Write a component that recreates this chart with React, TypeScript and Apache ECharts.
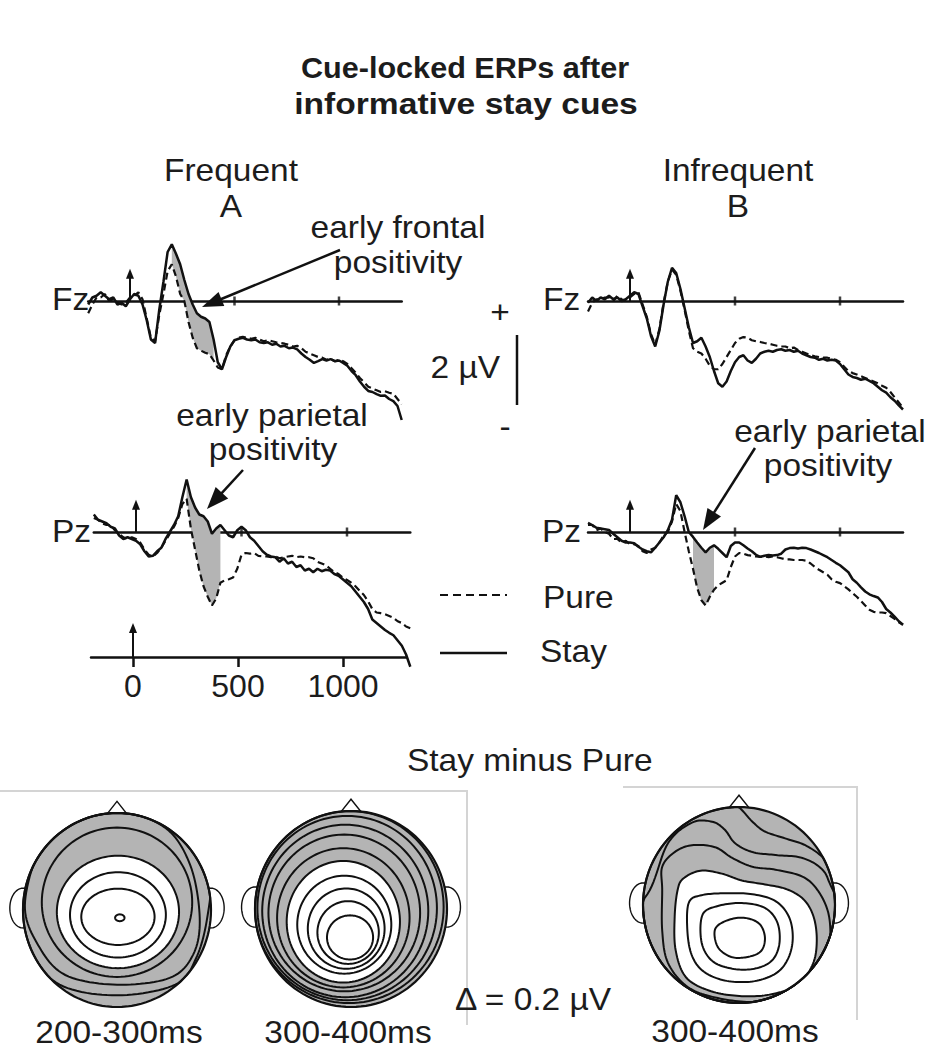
import React, { useEffect, useRef } from "react";
import * as echarts from "echarts";

// ---------------- data ----------------
const times = [-200,-180,-160,-140,-120,-100,-80,-60,-40,-20,0,20,40,60,80,100,120,140,160,180,200,220,240,260,280,300,320,340,360,380,400,420,440,460,480,500,520,540,560,580,600,620,640,660,680,700,720,740,760,780,800,820,840,860,880,900,920,940,960,980,1000,1020,1040,1060,1080,1100,1120,1140,1160,1180,1200,1220,1240,1260,1280,1300];

const fzFrequentStay = [
  -0.1, 0.1, 0.15, 0.25, 0.15, 0.05, 0.1, -0.1, -0.05, -0.15,
  0.05, 0.2, 0.15, -0.1, -0.55, -1.1, -1.2, -0.25, 0.55, 1.4,
  1.62, 1.35, 1.05, 0.6, 0.2, -0.1, -0.35, -0.45, -0.5, -0.6,
  -1.1, -1.75, -1.95, -1.6, -1.3, -1.12, -1.08, -1.05, -1.1, -1.12,
  -1.1, -1.18, -1.2, -1.18, -1.25, -1.22, -1.3, -1.28, -1.35, -1.33,
  -1.38, -1.5, -1.6, -1.68, -1.77, -1.72, -1.66, -1.7, -1.66, -1.72,
  -1.7, -1.77, -1.85, -2.0, -2.12, -2.3, -2.45, -2.57, -2.6, -2.66,
  -2.71, -2.7, -2.8, -2.86, -3.0, -3.4];
const fzFrequentPure = [
  -0.35, -0.1, 0.1, 0.1, 0.2, 0.0, 0.05, -0.05, -0.1, -0.05,
  0.1, 0.15, 0.25, 0.05, -0.5, -1.05, -1.15, -0.4, 0.2, 0.85,
  1.05, 0.7, 0.2, 0.0, -0.6, -1.05, -1.35, -1.42, -1.48, -1.52,
  -1.7, -1.9, -1.95, -1.55, -1.3, -1.12, -1.05, -1.02, -1.05, -1.08,
  -1.05, -1.1, -1.15, -1.12, -1.15, -1.18, -1.2, -1.22, -1.25, -1.3,
  -1.28, -1.35, -1.45, -1.5, -1.55, -1.6, -1.62, -1.68, -1.65, -1.72,
  -1.68, -1.72, -1.8, -1.92, -2.05, -2.2, -2.32, -2.45, -2.5, -2.55,
  -2.6, -2.58, -2.62, -2.65, -2.8, -2.95];
const fzInfrequentStay = [
  -0.05, 0.1, 0.0, 0.1, 0.05, 0.15, 0.05, 0.1, 0.0, 0.05,
  0.15, 0.25, 0.2, -0.15, -0.5, -1.0, -1.3, -0.85, -0.1, 0.55,
  0.95, 0.8, 0.35, -0.2, -0.75, -1.2, -1.15, -1.05, -1.3, -1.6,
  -2.0, -2.35, -2.45, -2.3, -2.0, -1.75, -1.6, -1.55, -1.7, -1.77,
  -1.65, -1.5, -1.45, -1.42, -1.45, -1.4, -1.38, -1.42, -1.4, -1.45,
  -1.42, -1.5, -1.55, -1.6, -1.62, -1.68, -1.65, -1.7, -1.68, -1.7,
  -1.8, -1.95, -2.1, -2.17, -2.2, -2.25, -2.22, -2.28, -2.35, -2.45,
  -2.55, -2.62, -2.75, -2.85, -2.98, -3.1];
const fzInfrequentPure = [
  -0.3, -0.05, 0.05, 0.05, 0.1, 0.1, 0.0, 0.15, 0.05, 0.0,
  0.1, 0.2, 0.25, -0.1, -0.45, -0.95, -1.25, -0.8, -0.05, 0.55,
  0.9, 0.75, 0.3, -0.25, -0.85, -1.35, -1.45, -1.5, -1.65, -1.85,
  -1.95, -1.95, -1.8, -1.6, -1.4, -1.2, -1.08, -1.03, -1.05, -1.12,
  -1.15, -1.17, -1.2, -1.22, -1.25, -1.28, -1.3, -1.3, -1.35, -1.33,
  -1.4, -1.45, -1.5, -1.55, -1.58, -1.6, -1.62, -1.62, -1.65, -1.68,
  -1.75, -1.88, -2.0, -2.06, -2.1, -2.15, -2.2, -2.25, -2.3, -2.35,
  -2.42, -2.48, -2.6, -2.75, -2.9, -3.05];
const pzFrequentStay = [
  0.5, 0.35, 0.3, 0.25, 0.15, 0.1, -0.1, -0.2, -0.15, -0.2,
  -0.25, -0.35, -0.55, -0.7, -0.68, -0.55, -0.45, -0.2, 0.0, 0.2,
  0.45, 1.0, 1.5, 1.0, 0.7, 0.5, 0.45, 0.3, -0.05, 0.1,
  0.2, 0.05, -0.1, -0.15, 0.05, 0.15, 0.05, -0.15, -0.25, -0.4,
  -0.55, -0.65, -0.7, -0.72, -0.85, -0.75, -0.9, -0.85, -1.0, -0.95,
  -1.1, -1.05, -1.15, -1.05, -1.12, -1.08, -1.1, -1.2, -1.25, -1.35,
  -1.45, -1.55, -1.7, -1.85, -2.0, -2.2, -2.5, -2.6, -2.7, -2.8,
  -2.88, -2.95, -3.1, -3.25, -3.5, -3.85];
const pzFrequentPure = [
  0.4, 0.35, 0.25, 0.2, 0.2, 0.05, -0.05, -0.15, -0.2, -0.15,
  -0.2, -0.3, -0.5, -0.65, -0.7, -0.6, -0.45, -0.25, -0.05, 0.15,
  0.4, 0.8, 0.95, 0.1, -0.5, -1.1, -1.55, -1.85, -2.1, -1.9,
  -1.45, -1.38, -1.35, -1.3, -1.05, -0.65, -0.6, -0.62, -0.6, -0.68,
  -0.7, -0.7, -0.72, -0.7, -0.75, -0.72, -0.7, -0.68, -0.72, -0.7,
  -0.72, -0.72, -0.75, -0.85, -0.9, -0.95, -1.05, -1.15, -1.2, -1.3,
  -1.37, -1.45, -1.55, -1.68, -1.8, -1.98, -2.2, -2.3, -2.32, -2.35,
  -2.4, -2.45, -2.55, -2.6, -2.7, -2.75];
const pzInfrequentStay = [
  0.26, 0.2, 0.12, 0.1, 0.08, 0.06, -0.05, -0.15, -0.25, -0.3,
  -0.3, -0.32, -0.42, -0.5, -0.55, -0.58, -0.45, -0.3, -0.15, 0.05,
  0.35, 1.05, 0.85, 0.45, 0.0, -0.14, -0.3, -0.45, -0.58, -0.45,
  -0.38, -0.48, -0.6, -0.72, -0.4, -0.3, -0.3, -0.38, -0.47, -0.55,
  -0.65, -0.71, -0.68, -0.66, -0.67, -0.66, -0.62, -0.5, -0.46, -0.45,
  -0.47, -0.45, -0.46, -0.5, -0.55, -0.6, -0.66, -0.72, -0.8, -0.88,
  -0.95, -1.05, -1.15, -1.35, -1.45, -1.58, -1.7, -1.78, -1.83, -1.87,
  -2.0, -2.2, -2.3, -2.42, -2.55, -2.65];
const pzInfrequentPure = [
  0.2, 0.2, 0.05, 0.1, 0.0, -0.05, -0.2, -0.2, -0.3, -0.25,
  -0.35, -0.35, -0.4, -0.55, -0.6, -0.5, -0.45, -0.3, -0.1, 0.0,
  0.3, 0.8, 0.6, 0.0, -0.55, -1.05, -1.6, -1.95, -2.1, -1.85,
  -1.65, -1.52, -1.45, -1.38, -1.0, -0.7, -0.6, -0.62, -0.66, -0.68,
  -0.7, -0.71, -0.7, -0.72, -0.7, -0.72, -0.75, -0.78, -0.78, -0.8,
  -0.8, -0.8, -0.82, -0.9, -1.0, -1.08, -1.15, -1.22, -1.35, -1.42,
  -1.46, -1.55, -1.64, -1.75, -1.85, -1.97, -2.1, -2.22, -2.28, -2.3,
  -2.3, -2.32, -2.4, -2.48, -2.58, -2.65];

// shaded time windows (ms)
const fzFrequentShade = [200, 400];
const pzFrequentShade = [240, 400];
const pzInfrequentShade = [300, 400];

const timeTicks = [0, 500, 1000];
const baselineTicks = [500, 1000];
const onsetArrow = [0, 0.92]; // cue onset marker: time (ms), height (µV)

// topographic contours, head units (ellipse: [cx, cy, rx, ry], curve: control points)
const map1Gray = [
  [0.0, 0.08, 0.8, 0.77],
  [[0.88,-0.08],[0.81,-0.46],[0.56,-0.7],[0,-0.77],[-0.55,-0.67],[-0.84,-0.36],[-0.98,0.05],[-0.82,0.62],[-0.5,0.88],[0,1.01],[0.51,0.85],[0.78,0.46]],
  [[0.96,-0.08],[0.84,-0.5],[0.62,-0.77],[0,-0.88],[-0.61,-0.77],[-0.93,-0.41],[-1.14,0.1],[-0.82,0.93],[0,1.13],[0.78,0.83],[0.99,0.41]],
];
const map1Boundary = [0.01, -0.02, 0.65, 0.58];
const map1White = [[0.01,-0.05,0.51,0.44],[0.01,-0.07,0.39,0.29],[0.03,-0.08,0.05,0.035]];

const map2Gray = [[-0.08,-0.09,0.69,0.71],[-0.07,-0.04,0.79,0.8],[-0.06,-0.02,0.865,0.88],[-0.04,0.01,0.935,0.94],[-0.02,0.02,0.985,0.98]];
const map2Boundary = [-0.08, -0.13, 0.59, 0.62];
const map2White = [[-0.07,-0.16,0.49,0.5],[-0.05,-0.2,0.4,0.41],[-0.03,-0.24,0.32,0.32],[-0.01,-0.29,0.24,0.225]];

const map3Gray = [
  [[-0.8,0.39],[-0.67,0.54],[-0.49,0.61],[-0.25,0.59],[-0.07,0.48],[0.14,0.39],[0.38,0.36],[0.66,0.29],[0.82,0.15],[0.93,-0.08],[0.95,-0.36],[0.9,-0.63],[0.76,-0.84],[0.48,-0.95],[0.14,-0.99],[-0.22,-0.95],[-0.53,-0.84],[-0.74,-0.59],[-0.8,-0.26],[-0.8,0.15]],
  [[-0.93,0.15],[-0.74,0.63],[-0.49,0.84],[-0.28,0.85],[-0.15,0.77],[-0.04,0.63],[0.14,0.54],[0.38,0.51],[0.66,0.48],[0.87,0.36],[0.98,0.15],[1.25,-0.35],[0.85,-1.1],[0,-1.3],[-0.85,-1.1],[-1.25,-0.35]],
  [[0.01,0.99],[0.14,0.85],[0.27,0.75],[0.48,0.68],[0.69,0.61],[0.87,0.49],[0.97,0.36],[1.3,0],[1.0,-1.0],[0,-1.35],[-1.0,-1.0],[-1.35,0],[-1.0,1.0],[-0.3,1.3]],
];
const map3Boundary = [[-0.58,0.27],[-0.4,0.35],[-0.18,0.32],[0.03,0.25],[0.27,0.21],[0.5,0.16],[0.68,0.05],[0.78,-0.13],[0.81,-0.37],[0.77,-0.6],[0.62,-0.81],[0.34,-0.91],[0.03,-0.93],[-0.29,-0.88],[-0.55,-0.74],[-0.66,-0.46],[-0.67,-0.12],[-0.64,0.15]];
const map3White = [
  [[-0.52,0.03],[-0.39,0.1],[-0.15,0.12],[0.14,0.11],[0.38,0.04],[0.52,-0.12],[0.56,-0.34],[0.51,-0.55],[0.38,-0.7],[0.14,-0.78],[-0.15,-0.77],[-0.38,-0.67],[-0.5,-0.49],[-0.54,-0.22]],
  [[-0.38,-0.1],[-0.22,-0.01],[0.03,0.02],[0.27,-0.03],[0.4,-0.18],[0.42,-0.4],[0.34,-0.57],[0.16,-0.65],[-0.07,-0.65],[-0.28,-0.57],[-0.39,-0.38]],
  [[-0.25,-0.25],[-0.13,-0.16],[0.05,-0.13],[0.21,-0.19],[0.27,-0.33],[0.23,-0.47],[0.09,-0.53],[-0.08,-0.53],[-0.22,-0.43]],
];

// ---------------- styling / layout ----------------
const INK = "#111";
const TXT = "#1c1c1c";
const GRAY = "#b4b4b4";
const FONT = '"Liberation Sans", Arial, Helvetica, sans-serif';
const K = 35; // px per microvolt
const Y_MIN = -4.5;
const Y_MAX = 2.5;

type Pt = [number, number];

function ellipsePoints(e: number[]): Pt[] {
  const [cx, cy, rx, ry] = e;
  const out: Pt[] = [];
  const n = 120;
  for (let i = 0; i < n; i++) {
    const a = (i / n) * Math.PI * 2;
    out.push([cx + rx * Math.cos(a), cy + ry * Math.sin(a)]);
  }
  return out;
}
function splinePoints(ctrl: Pt[]): Pt[] {
  const n = ctrl.length;
  const out: Pt[] = [];
  const f = (a: number, b: number, c: number, d: number, t: number) => {
    const t2 = t * t, t3 = t2 * t;
    return 0.5 * (2 * b + (-a + c) * t + (2 * a - 5 * b + 4 * c - d) * t2 + (-a + 3 * b - 3 * c + d) * t3);
  };
  for (let i = 0; i < n; i++) {
    const p0 = ctrl[(i - 1 + n) % n], p1 = ctrl[i], p2 = ctrl[(i + 1) % n], p3 = ctrl[(i + 2) % n];
    for (let s = 0; s < 12; s++) {
      const t = s / 12;
      out.push([f(p0[0], p1[0], p2[0], p3[0], t), f(p0[1], p1[1], p2[1], p3[1], t)]);
    }
  }
  return out;
}
function shapePoints(shape: any): Pt[] {
  return Array.isArray(shape[0]) ? splinePoints(shape as Pt[]) : ellipsePoints(shape as number[]);
}
function clampToHead(pts: Pt[]): Pt[] {
  return pts.map(([x, y]) => {
    const r = Math.hypot(x, y);
    return (r > 1 ? [x / r, y / r] : [x, y]) as Pt;
  });
}

function makeMapRenderer(gray: any[], boundary: any, white: any[]) {
  return (_params: any, api: any) => {
    const px = (pts: Pt[]) => pts.map((p) => api.coord(p));
    const children: any[] = [];
    const thin = { stroke: INK, lineWidth: 1.4 };
    for (const s of [-1, 1]) {
      children.push({ type: "polygon", shape: { points: px(ellipsePoints([s * 1.0, 0.02, 0.14, 0.205])) }, style: { fill: "#fff", ...thin } });
    }
    children.push({ type: "polygon", shape: { points: px([[-0.13, 0.96], [0, 1.12], [0.13, 0.96]]) }, style: { fill: "#fff", ...thin } });
    const head = ellipsePoints([0, 0, 1, 1]);
    children.push({ type: "polygon", shape: { points: px(head) }, style: { fill: GRAY } });
    for (const g of gray) {
      children.push({ type: "polygon", shape: { points: px(clampToHead(shapePoints(g))) }, style: { fill: "none", stroke: INK, lineWidth: 2 } });
    }
    children.push({ type: "polygon", shape: { points: px(clampToHead(shapePoints(boundary))) }, style: { fill: "#fff", stroke: INK, lineWidth: 2 } });
    for (const w of white) {
      children.push({ type: "polygon", shape: { points: px(clampToHead(shapePoints(w))) }, style: { fill: "none", stroke: INK, lineWidth: 2 } });
    }
    children.push({ type: "polygon", shape: { points: px(head) }, style: { fill: "none", stroke: INK, lineWidth: 2.2 } });
    return { type: "group", children };
  };
}

function onsetArrowRenderer(_p: any, api: any) {
  const a = api.coord([onsetArrow[0], 0]);
  const b = api.coord([onsetArrow[0], onsetArrow[1]]);
  const h = 10, w = 8;
  return {
    type: "group",
    children: [
      { type: "line", shape: { x1: a[0], y1: a[1], x2: b[0], y2: b[1] + h - 1 }, style: { stroke: INK, lineWidth: 2 } },
      { type: "polygon", shape: { points: [[b[0], b[1]], [b[0] - w / 2, b[1] + h], [b[0] + w / 2, b[1] + h]] }, style: { fill: INK } },
    ],
  };
}

const erpPanels = [
  { x0: 130, p: 0.209, base: 301, stay: fzFrequentStay, pure: fzFrequentPure, shade: fzFrequentShade },
  { x0: 630, p: 0.21, base: 301, stay: fzInfrequentStay, pure: fzInfrequentPure, shade: null as number[] | null },
  { x0: 136, p: 0.211, base: 532, stay: pzFrequentStay, pure: pzFrequentPure, shade: pzFrequentShade },
  { x0: 630, p: 0.21, base: 532, stay: pzInfrequentStay, pure: pzInfrequentPure, shade: pzInfrequentShade },
];

const maps = [
  { cx: 117, cy: 910, rx: 94, ry: 97, gray: map1Gray, boundary: map1Boundary, white: map1White },
  { cx: 351, cy: 909, rx: 96, ry: 98, gray: map2Gray, boundary: map2Boundary, white: map2White },
  { cx: 739, cy: 905, rx: 96, ry: 98, gray: map3Gray, boundary: map3Boundary, white: map3White },
];

function text(str: string, x: number, y: number, o: any = {}) {
  return {
    type: "text",
    x,
    y,
    scaleX: o.sx ?? 1.08,
    z: 20,
    silent: true,
    style: {
      text: str,
      fill: TXT,
      fontSize: o.size ?? 31,
      fontWeight: o.bold ? "bold" : "normal",
      fontFamily: FONT,
      textAlign: o.align ?? "center",
      align: o.align ?? "center",
      textVerticalAlign: "middle",
      verticalAlign: "middle",
    },
  };
}

function arrow(tail: Pt, tip: Pt, len: number, wid: number) {
  const dx = tip[0] - tail[0], dy = tip[1] - tail[1];
  const d = Math.hypot(dx, dy);
  const ux = dx / d, uy = dy / d;
  const bx = tip[0] - ux * len, by = tip[1] - uy * len;
  const nx = -uy, ny = ux;
  return [
    { type: "line", z: 20, silent: true, shape: { x1: tail[0], y1: tail[1], x2: bx + ux * 2, y2: by + uy * 2 }, style: { stroke: INK, lineWidth: 2.5 } },
    { type: "polygon", z: 20, silent: true, shape: { points: [tip, [bx + (nx * wid) / 2, by + (ny * wid) / 2], [bx - (nx * wid) / 2, by - (ny * wid) / 2]] }, style: { fill: INK } },
  ];
}

function buildOption() {
  const grid: any[] = [];
  const xAxis: any[] = [];
  const yAxis: any[] = [];
  const series: any[] = [];

  erpPanels.forEach((pn, i) => {
    grid.push({ left: pn.x0 - 200 * pn.p, width: 1500 * pn.p, top: pn.base - Y_MAX * K, height: (Y_MAX - Y_MIN) * K, outerBoundsMode: "none", containLabel: false });
    xAxis.push({
      gridIndex: i, type: "value", min: -200, max: 1300,
      axisLine: { show: true, onZero: true, lineStyle: { color: INK, width: 2.5 } },
      axisTick: { show: false }, axisLabel: { show: false }, splitLine: { show: false },
    });
    yAxis.push({ gridIndex: i, type: "value", min: Y_MIN, max: Y_MAX, show: false, axisLine: { onZero: false }, splitLine: { show: false } });
    if (pn.shade) {
      const [w0, w1] = pn.shade;
      const stay = pn.stay, pure = pn.pure;
      series.push({
        type: "custom", xAxisIndex: i, yAxisIndex: i, data: [[0, 0]], clip: false, silent: true, z: 1,
        renderItem: (_p: any, api: any) => {
          const top: any[] = [];
          const bot: any[] = [];
          times.forEach((t, k) => {
            if (t >= w0 && t <= w1) {
              top.push(api.coord([t, stay[k]]));
              bot.push(api.coord([t, pure[k]]));
            }
          });
          return { type: "polygon", shape: { points: top.concat(bot.reverse()) }, style: { fill: GRAY } };
        },
      });
    }
    series.push({
      type: "line", xAxisIndex: i, yAxisIndex: i, silent: true, z: 3, symbol: "none", showSymbol: false,
      data: times.map((t, k) => [t, pn.pure[k]]),
      lineStyle: { color: INK, width: 2.2, type: [7, 4] },
    });
    series.push({
      type: "line", xAxisIndex: i, yAxisIndex: i, silent: true, z: 4, symbol: "none", showSymbol: false,
      data: times.map((t, k) => [t, pn.stay[k]]),
      lineStyle: { color: INK, width: 2.5 },
    });
    series.push({
      type: "scatter", xAxisIndex: i, yAxisIndex: i, silent: true, z: 2,
      data: baselineTicks.map((t) => [t, 0]),
      symbol: "rect", symbolSize: [2.5, 9], itemStyle: { color: INK },
    });
    series.push({
      type: "custom", xAxisIndex: i, yAxisIndex: i, data: [onsetArrow], clip: false, silent: true, z: 5,
      renderItem: onsetArrowRenderer,
    });
  });

  // bottom time axis
  const bi = erpPanels.length;
  const bx0 = 133, bp = 0.21;
  grid.push({ left: bx0 - 200 * bp, width: 1500 * bp, top: 620, height: 37, outerBoundsMode: "none", containLabel: false });
  xAxis.push({
    gridIndex: bi, type: "value", min: -200, max: 1300, position: "bottom",
    axisLine: { show: true, onZero: false, lineStyle: { color: INK, width: 2.5 } },
    axisTick: { show: true, customValues: timeTicks, length: 10, lineStyle: { color: INK, width: 2.5 } },
    axisLabel: { show: true, customValues: timeTicks, fontSize: 32, fontFamily: FONT, color: TXT, margin: 13, formatter: (v: number) => String(v) },
    splitLine: { show: false },
  });
  yAxis.push({ gridIndex: bi, type: "value", min: 0, max: 1, show: false, axisLine: { onZero: false }, splitLine: { show: false } });
  series.push({
    type: "custom", xAxisIndex: bi, yAxisIndex: bi, data: [onsetArrow], clip: false, silent: true, z: 5,
    renderItem: onsetArrowRenderer,
  });

  // topographic maps
  maps.forEach((m, j) => {
    const gi = bi + 1 + j;
    grid.push({ left: m.cx - 1.2 * m.rx, width: 2.4 * m.rx, top: m.cy - 1.2 * m.ry, height: 2.4 * m.ry, outerBoundsMode: "none", containLabel: false });
    xAxis.push({ gridIndex: gi, type: "value", min: -1.2, max: 1.2, show: false, splitLine: { show: false } });
    yAxis.push({ gridIndex: gi, type: "value", min: -1.2, max: 1.2, show: false, splitLine: { show: false } });
    series.push({
      type: "custom", xAxisIndex: gi, yAxisIndex: gi, data: [[0, 0]], clip: false, silent: true, z: 2,
      renderItem: makeMapRenderer(m.gray, m.boundary, m.white),
    });
  });

  const graphics: any[] = [
    text("Cue-locked ERPs after", 465, 68, { bold: true, size: 30, sx: 1.02 }),
    text("informative stay cues", 466, 104, { bold: true, size: 30, sx: 1.12 }),
    text("Frequent", 231, 170),
    text("A", 231, 206),
    text("Infrequent", 738, 170),
    text("B", 738, 206),
    text("early frontal", 398, 227),
    text("positivity", 398, 262),
    text("Fz", 52, 299, { align: "left" }),
    text("Fz", 543, 299, { align: "left" }),
    text("+", 500, 312),
    text("2 µV", 500, 367, { align: "right" }),
    text("-", 505, 426),
    text("early parietal", 272, 415),
    text("positivity", 273, 449),
    text("early parietal", 830, 431),
    text("positivity", 828, 465),
    text("Pz", 52, 531, { align: "left" }),
    text("Pz", 542, 531, { align: "left" }),
    text("Pure", 543, 597, { align: "left" }),
    text("Stay", 540, 651, { align: "left" }),
    text("Stay minus Pure", 407, 760, { align: "left" }),
    text("Δ = 0.2 µV", 455, 999, { align: "left" }),
    text("200-300ms", 119, 1032),
    text("300-400ms", 348, 1032),
    text("300-400ms", 735, 1031),
    { type: "line", z: 20, silent: true, shape: { x1: 517, y1: 335, x2: 517, y2: 405 }, style: { stroke: INK, lineWidth: 2.5 } },
    { type: "line", z: 20, silent: true, shape: { x1: 440, y1: 595, x2: 507, y2: 595 }, style: { stroke: INK, lineWidth: 2.2, lineDash: [8, 5] } },
    { type: "line", z: 20, silent: true, shape: { x1: 440, y1: 653, x2: 507, y2: 653 }, style: { stroke: INK, lineWidth: 2.5 } },
    { type: "polyline", z: 0, silent: true, shape: { points: [[0, 791], [467, 791], [467, 1025]] }, style: { stroke: "#d4d4d4", lineWidth: 2, fill: "none" } },
    { type: "polyline", z: 0, silent: true, shape: { points: [[623, 787], [857, 787], [857, 1020]] }, style: { stroke: "#d4d4d4", lineWidth: 2, fill: "none" } },
    ...arrow([340, 250], [202, 307], 21, 15),
    ...arrow([243, 470], [207, 509], 22, 17),
    ...arrow([755, 448], [703, 530], 21, 16),
  ];

  return {
    animation: false,
    backgroundColor: "#ffffff",
    tooltip: { show: false },
    grid,
    xAxis,
    yAxis,
    series,
    graphic: { elements: graphics },
  };
}

export default function App() {
  const ref = useRef<HTMLDivElement>(null);
  useEffect(() => {
    document.body.style.margin = "0";
    if (!ref.current) return;
    const chart = echarts.init(ref.current, undefined, { renderer: "svg" });
    chart.setOption(buildOption() as any);
    return () => chart.dispose();
  }, []);
  return <div ref={ref} style={{ position: "absolute", left: 0, top: 0, width: 930, height: 1050, background: "#fff" }} />;
}
